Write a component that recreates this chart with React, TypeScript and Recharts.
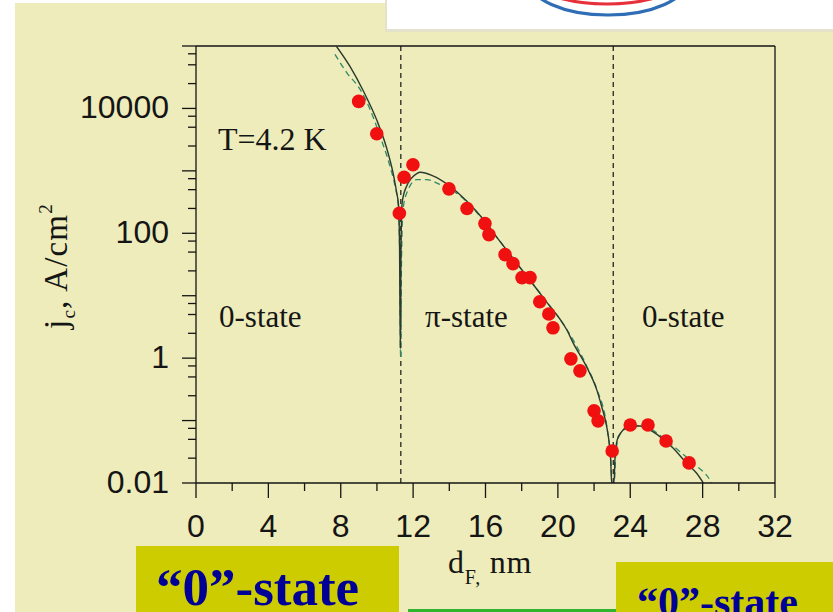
import React from "react";
import { ComposedChart, Line, ReferenceLine, Scatter, XAxis, YAxis } from "recharts";

const INK = "#151515";
const RED = "#f01010";
const FIT_COLOR = "#2b3a2e";
const FIT_DASH_COLOR = "#2f8a68";
const PAGE_BG = "#edecba";
const BOX_BG = "#cdcc00";
const BOX_TEXT = "#000096";
const SERIF = "'Liberation Serif', 'Times New Roman', serif";
const SANS = "'Liberation Sans', Arial, sans-serif";

// axes
const X_TICKS = [0, 2, 4, 6, 8, 10, 12, 14, 16, 18, 20, 22, 24, 26, 28, 30, 32];
const Y_DECADES = [0.01, 0.1, 1, 10, 100, 1000, 10000, 100000];
const Y_LABELLED = [0.01, 1, 100, 10000];
const Y_MINOR_STEPS = [2.5, 5, 7.5];

// measured critical current density, red dots
const MEASURED_D = [
  8.99, 9.99, 11.24, 11.5, 11.99, 13.98, 14.98, 15.97, 16.19, 17.08, 17.52, 18.02, 18.46,
  19.0, 19.5, 19.73, 20.72, 21.22, 22.0, 22.22, 23.0, 24.0, 24.98, 25.98, 27.25,
];
const MEASURED_JC = [
  12970, 3930, 209, 790, 1250, 515, 249, 143, 95, 45.5, 32.6, 19.5, 19.5,
  8.0, 5.1, 3.06, 0.975, 0.626, 0.143, 0.099, 0.0326, 0.085, 0.085, 0.047, 0.021,
];

// theory, solid line
const FIT_SOLID_D = [
  7.75, 8.51, 9.25, 9.99, 10.54, 10.9, 11.09, 11.19, 11.25, 11.29, 11.33, 11.4, 11.64, 12.2,
  12.4, 13.06, 14.04, 14.97, 15.89, 16.8, 17.72, 18.65, 19.56, 20.12, 20.49, 20.85, 21.59,
  22.15, 22.42, 22.7, 22.84, 22.92, 22.97, 23.1, 23.16, 23.28, 23.53, 23.99, 24.54, 25.09,
  25.64, 26.38, 27.12, 27.67, 28.04,
];
const FIT_SOLID_JC = [
  100000, 47000, 19000, 6500, 2300, 900, 450, 290, 60, 1.45, 60, 320, 568, 906,
  950, 841, 568, 326, 166, 74, 33.4, 15, 6.75, 4.2, 2.85, 1.74, 0.72,
  0.31, 0.168, 0.08, 0.043, 0.0234, 0.01, 0.01, 0.0264, 0.049, 0.0666, 0.082, 0.082, 0.0708,
  0.0553, 0.0361, 0.0207, 0.0143, 0.01,
];

// theory, dashed line
const FIT_DASHED_D = [
  7.68, 8.33, 9.06, 9.62, 10.17, 10.72, 11.0, 11.18, 11.26, 11.31, 11.36, 11.45, 11.7, 12.2,
  12.75, 13.49, 14.3, 14.97, 15.89, 16.8, 17.72, 18.65, 19.56, 20.49, 21.59, 22.15, 22.7,
  22.92, 23.0, 23.12, 23.2, 23.4, 24.0, 24.54, 25.09, 25.64, 26.75, 27.48, 28.41, 28.5,
];
const FIT_DASHED_JC = [
  73600, 37400, 20400, 9630, 3600, 1190, 568, 271, 40, 1.0, 40, 250, 480, 726,
  726, 604, 460, 320, 160, 74, 33, 15, 6.9, 2.9, 0.75, 0.32, 0.082,
  0.024, 0.01, 0.01, 0.03, 0.058, 0.08, 0.083, 0.075, 0.058, 0.0318, 0.0207, 0.0111, 0.01,
];

const BOUNDARIES = [11.32, 23.06];

const toRows = (xs: number[], ys: number[]) => xs.map((x, i) => ({ x, y: ys[i] }));

const measured = toRows(MEASURED_D, MEASURED_JC);
const fitSolid = toRows(FIT_SOLID_D, FIT_SOLID_JC);
const fitDashed = toRows(FIT_DASHED_D, FIT_DASHED_JC);

const yTicks = [
  ...Y_DECADES,
  ...Y_DECADES.slice(0, -1).flatMap((d) => Y_MINOR_STEPS.map((s) => s * d)),
].sort((a, b) => a - b);

const isDecade = (v: number) => Y_DECADES.some((d) => Math.abs(v / d - 1) < 1e-6);
const isLabelled = (v: number) => Y_LABELLED.some((d) => Math.abs(v / d - 1) < 1e-6);

function XTick(props: any) {
  const { x, y, payload } = props;
  const v = payload.value;
  const major = v % 4 === 0;
  return (
    <g>
      <line x1={x} x2={x} y1={y} y2={y + (major ? 15 : 8)} stroke={INK} strokeWidth={1.3} />
      {major && (
        <text x={x} y={y + 54} textAnchor="middle" fontSize={32} fontFamily={SANS} fill={INK}>
          {v}
        </text>
      )}
    </g>
  );
}

function YTick(props: any) {
  const { x, y, payload } = props;
  const v = payload.value;
  return (
    <g>
      <line x1={x} x2={x - (isDecade(v) ? 14 : 8)} y1={y} y2={y} stroke={INK} strokeWidth={1.3} />
      {isLabelled(v) && (
        <text x={x - 27} y={y + 10} textAnchor="end" fontSize={32} fontFamily={SANS} fill={INK}>
          {String(v)}
        </text>
      )}
    </g>
  );
}

function Dot(props: any) {
  return <circle cx={props.cx} cy={props.cy} r={6.8} fill={RED} />;
}

export default function App() {
  return (
    <div style={{ position: "fixed", left: 0, top: 0, width: 833, height: 612, overflow: "hidden", background: "#fff" }}>
      <div style={{ position: "absolute", left: 15, top: 3, right: 0, bottom: 0, background: PAGE_BG }} />

      <svg width={833} height={612} style={{ position: "absolute", left: 0, top: 0 }}>
        <defs>
          <clipPath id="logoBox">
            <rect x={387} y={0} width={446} height={29} />
          </clipPath>
        </defs>
        <rect x={385} y={0} width={448} height={32} fill="#e4e2cb" />
        <rect x={387} y={0} width={446} height={29} fill="#ffffff" />
        <g clipPath="url(#logoBox)" fill="none" strokeWidth={3.2}>
          <ellipse cx={608} cy={-21} rx={80} ry={36} stroke="#2f6db5" />
          <ellipse cx={607} cy={-12} rx={60} ry={16} stroke="#e8303a" />
        </g>
      </svg>

      <div style={{ position: "absolute", left: 0, top: 0 }}>
        <ComposedChart width={833} height={612} margin={{ top: 46, right: 58, bottom: 69, left: 46 }}>
          <XAxis
            type="number"
            dataKey="x"
            domain={[0, 32]}
            ticks={X_TICKS}
            interval={0}
            allowDataOverflow
            height={60}
            tickLine={false}
            tickSize={0}
            tickMargin={0}
            tick={(p: any) => <XTick {...p} />}
            axisLine={{ stroke: INK, strokeWidth: 1.3 }}
          />
          <YAxis
            type="number"
            scale="log"
            domain={[0.01, 100000]}
            ticks={yTicks}
            interval={0}
            allowDataOverflow
            width={150}
            tickLine={false}
            tickSize={0}
            tickMargin={0}
            tick={(p: any) => <YTick {...p} />}
            axisLine={{ stroke: INK, strokeWidth: 1.3 }}
          />
          <ReferenceLine y={100000} stroke={INK} strokeWidth={1.3} />
          <ReferenceLine x={32} stroke={INK} strokeWidth={1.3} />
          {BOUNDARIES.map((b) => (
            <ReferenceLine key={b} x={b} stroke={INK} strokeWidth={1.2} strokeDasharray="5 4" />
          ))}
          <Line
            data={fitDashed}
            dataKey="y"
            type="monotoneX"
            stroke={FIT_DASH_COLOR}
            strokeWidth={1.3}
            strokeDasharray="6 4"
            dot={false}
            isAnimationActive={false}
          />
          <Line
            data={fitSolid}
            dataKey="y"
            type="monotoneX"
            stroke={FIT_COLOR}
            strokeWidth={1.4}
            dot={false}
            isAnimationActive={false}
          />
          <Scatter data={measured} dataKey="y" shape={<Dot />} isAnimationActive={false} />
        </ComposedChart>
      </div>

      <svg width={833} height={612} style={{ position: "absolute", left: 0, top: 0, pointerEvents: "none" }}>
        <g fontFamily={SERIF} fill={INK}>
          <text x={218} y={150} fontSize={32}>T=4.2 K</text>
          <text x={219} y={327} fontSize={31}>0-state</text>
          <text x={425} y={327} fontSize={31}>π-state</text>
          <text x={642} y={327} fontSize={31}>0-state</text>
          <text
            transform="rotate(-90 67 266)"
            x={67}
            y={266}
            fontSize={33}
            letterSpacing={1.2}
            textAnchor="middle"
          >
            j<tspan dy={8} fontSize={19}>c</tspan>
            <tspan dy={-8}>, A/cm</tspan>
            <tspan dy={-15} fontSize={19}>2</tspan>
          </text>
          <text x={448} y={573} fontSize={32} letterSpacing={0.8}>
            d<tspan dy={11} fontSize={20}>F,</tspan>
            <tspan dy={-11}> nm</tspan>
          </text>
        </g>

        <rect x={136} y={546} width={263} height={66} fill={BOX_BG} />
        <text x={156} y={605} fontSize={53} fontWeight="bold" fontFamily={SERIF} fill={BOX_TEXT}>
          “0”-state
        </text>
        <rect x={408} y={609} width={208} height={3} fill="#2fb52f" />
        <rect x={616} y={562} width={217} height={50} fill={BOX_BG} />
        <text x={637} y={616} fontSize={42} fontWeight="bold" fontFamily={SERIF} fill={BOX_TEXT}>
          “0”-state
        </text>
      </svg>
    </div>
  );
}
